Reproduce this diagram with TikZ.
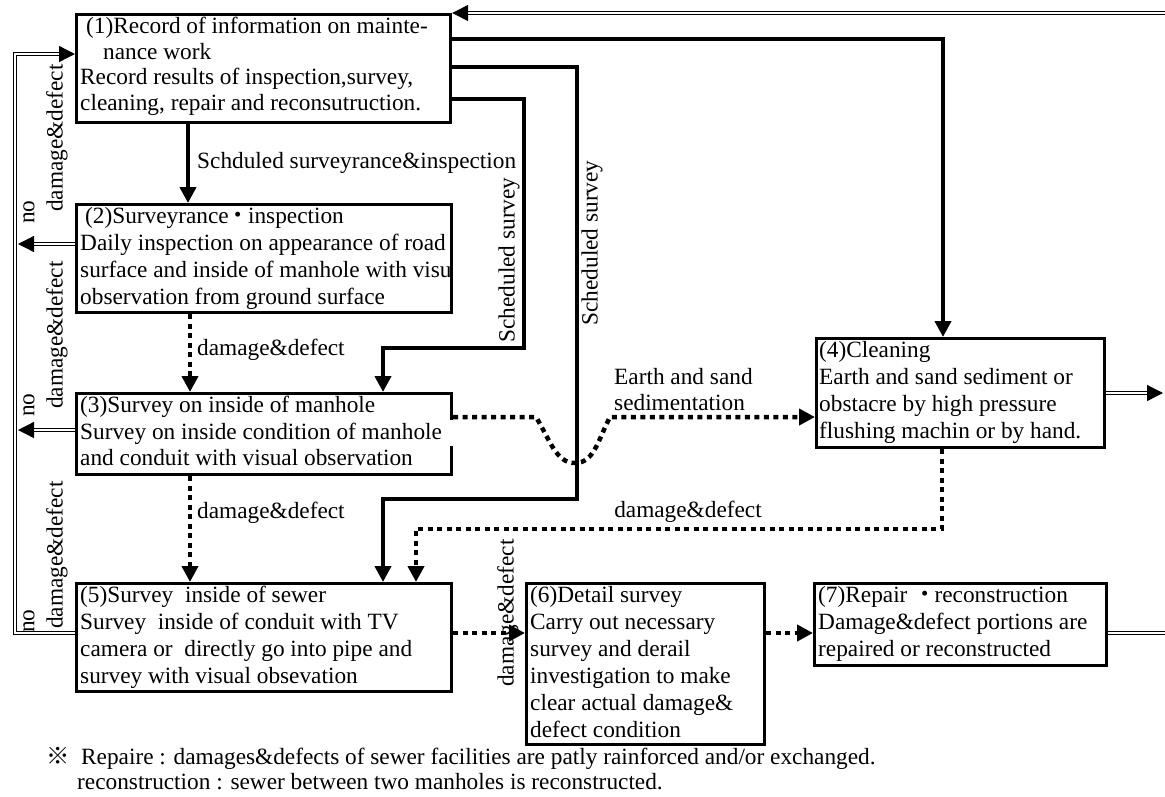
\documentclass[tikz,border=0pt]{standalone}
\usepackage{fontspec}
\setmainfont{Liberation Serif}
\newfontfamily\cjk{Noto Sans CJK JP}
\usetikzlibrary{arrows.meta,calc}

\begin{document}
\begin{tikzpicture}[x=1pt,y=-1pt,
  every node/.style={font=\fontsize{23.3}{26}\selectfont},
  box/.style={draw, line width=3.2pt, anchor=north west, inner sep=0pt},
  txt/.style={anchor=north west, align=left, inner sep=0pt},
  wide/.style={font=\fontsize{23.3}{27}\selectfont},
  lbl/.style={inner sep=0pt},
  vlbl/.style={inner sep=0pt, rotate=90},
  tip/.style={-{Triangle[length=16pt,width=16pt]}},
  solidln/.style={line width=4.2pt},
  dotln/.style={line width=4.5pt, dash pattern=on 5pt off 4.5pt},
  dblln/.style={double, line width=1.3pt, double distance=2.2pt},
]
\useasboundingbox (0,0) rectangle (1165,796);

% process boxes
\node[box, minimum width=374pt, minimum height=108pt] (b1) at (75,13) {};
\node[box, minimum width=375pt, minimum height=108pt] (b2) at (75,203) {};
\node[box, minimum width=375pt, minimum height=81pt]  (b3) at (75,392) {};
\node[box, minimum width=288pt, minimum height=109pt] (b4) at (815,337) {};
\node[box, minimum width=375pt, minimum height=108pt] (b5) at (75,582) {};
\node[box, minimum width=238pt, minimum height=161pt] (b6) at (525,582) {};
\node[box, minimum width=292pt, minimum height=82pt]  (b7) at (813,582) {};

% box texts
\node[txt, font=\fontsize{23.3}{25.5}\selectfont] (t1) at (80,17) {\hspace{6pt}(1)Record of information on mainte-\\\hspace{23pt}nance work\\Record results of inspection,survey,\\cleaning, repair and reconsutruction.};
\node[txt, wide] (t2) at (80,207) {\hspace{5pt}(2)Surveyrance\kern-2pt{\cjk ・}\kern-2pt inspection\\Daily inspection on appearance of road\\surface and inside of manhole with visu\\observation from ground surface};
\node[txt, font=\fontsize{23.3}{26.5}\selectfont] (t3) at (80,396) {(3)Survey on inside of manhole\\Survey on inside condition of manhole\\and conduit with visual observation};
\fill[white] (446,420) rectangle (454,446);
\node[txt, wide] (t4) at (819,341) {(4)Cleaning\\Earth and sand sediment or\\obstacre by high pressure\\flushing machin or by hand.};
\node[txt, wide] (t5) at (80,586) {(5)Survey\ \ inside of sewer\\Survey\ \ inside of conduit with TV\\camera or\ \ directly go into pipe and\\survey with visual obsevation};
\node[txt, wide] (t6) at (530,586) {(6)Detail survey\\Carry out necessary\\survey and derail\\investigation to make\\clear actual damage\&\\defect condition};
\node[txt, wide] (t7) at (818,586) {(7)Repair {\cjk ・}\kern-2pt reconstruction\\Damage\&defect portions are\\repaired or reconstructed};

% routing points
\coordinate (c12) at (188,0);
\coordinate (pA) at (943,39);
\coordinate (pB1) at (577,67);
\coordinate (pB2) at (577,499);
\coordinate (pB3) at (383,499);
\coordinate (pC1) at (524,99);
\coordinate (pC2) at (524,348);
\coordinate (pC3) at (383,348);
\coordinate (d23) at (190,0);
\coordinate (d34a) at (536,417);
\coordinate (d34b) at (610,417);
\coordinate (d45a) at (942,529);
\coordinate (d45b) at (416,529);
\coordinate (d56) at (0,633);
\coordinate (l1) at (15,54);
\coordinate (l5) at (15,633);
\coordinate (l2) at (18,244);
\coordinate (l3) at (18,430);
\coordinate (r1) at (1170,13);
\coordinate (r4) at (1163,393);
\coordinate (r7) at (1170,633);

% scheduled work (solid)
\draw[solidln, tip] (b1.south -| c12) -- (b2.north -| c12);
\draw[solidln, tip] (b1.east |- pA) -| (b4.north -| pA);
\draw[solidln, tip] (b1.east |- pB1) -- (pB1) -- (pB2) -- (pB3) -- (b5.north -| pB3);
\draw[solidln, tip] (b1.east |- pC1) -- (pC1) -- (pC2) -- (pC3) -- (b3.north -| pC3);

% damage / sediment paths (dotted)
\draw[dotln, tip] (b2.south -| d23) -- (b3.north -| d23);
\draw[dotln, tip] (b3.south -| d23) -- (b5.north -| d23);
\draw[dotln, tip] (b3.east |- d34a) -- (d34a) .. controls (550,440) and (556,463) .. (575,463) .. controls (594,463) and (598,440) .. (d34b) -- (b4.west |- d34b);
\draw[dotln, tip] (b4.south -| d45a) -- (d45a) -- (d45b) -- (b5.north -| d45b);
\draw[dotln, tip] (b5.east |- d56) -- (b6.west |- d56);
\draw[dotln, tip] (b6.east |- d56) -- (b7.west |- d56);

% feedback to the record (double)
\draw[dblln, tip] (b5.west |- l5) -- (l5) -- (l1) -- (b1.west |- l1);
\draw[dblln, tip] (b2.west |- l2) -- (l2);
\draw[dblln, tip] (b3.west |- l3) -- (l3);
\draw[dblln, tip] (r1) -- (b1.north east);
\draw[dblln, tip] (b4.east |- r4) -- (r4);
\draw[dblln] (b7.east |- r7) -- (r7);

% connector labels
\node[lbl, anchor=west] (s12) at (197,163) {Schduled surveyrance\&inspection};
\node[lbl, anchor=west] (s23) at (197,350) {damage\&defect};
\node[lbl, anchor=west] (s35) at (197,513) {damage\&defect};
\node[lbl] (s45) at (688,512) {damage\&defect};
\node[lbl, anchor=west, align=left] (s34) at (614,390) {Earth and sand\\sedimentation};
\node[vlbl] (sv1) at (509,260) {Scheduled survey};
\node[vlbl] (sv2) at (592,243) {Scheduled survey};
\node[vlbl] (s56) at (508,613) {damage\&defect};
\node[vlbl] (sl1) at (57,138) {damage\&defect};
\node[vlbl] (sl2) at (57,335) {damage\&defect};
\node[vlbl] (sl3) at (57,555) {damage\&defect};
\node[vlbl] (n1) at (29,212) {no};
\node[vlbl] (n2) at (29,405) {no};
\node[vlbl] (n3) at (29,621) {no};

% footnote
\node[lbl, anchor=west] (f1) at (46,758) {{\cjk ※}\ \ Repaire : damages\&defects of sewer facilities are patly rainforced and/or exchanged.};
\node[lbl, anchor=west] (f2) at (77,782) {reconstruction : sewer between two manholes is reconstructed.};
\end{tikzpicture}
\end{document}
